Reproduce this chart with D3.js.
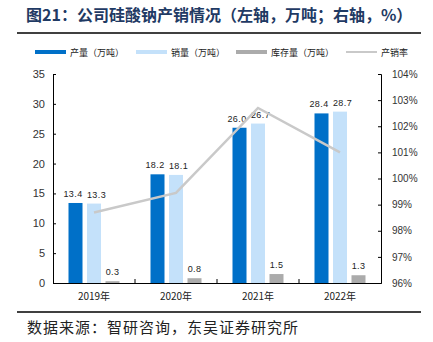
<!DOCTYPE html>
<html><head><meta charset="utf-8">
<script src="https://cdn.jsdelivr.net/npm/d3@7"></script>
<style>body{margin:0;background:#fff}svg{display:block}</style>
</head><body>
<script>
const years = ["2019年","2020年","2021年","2022年"];
const production = [13.4, 18.2, 26.0, 28.4];
const sales = [13.3, 18.1, 26.7, 28.7];
const inventory = [0.3, 0.8, 1.5, 1.3];
const rate = [98.7, 99.45, 102.7, 101.0];
const leftTicks = [0,5,10,15,20,25,30,35];
const rightTicks = [96,97,98,99,100,101,102,103,104];
const seriesNames = ["产量（万吨）","销量（万吨）","库存量（万吨）","产销率"];
const colors = ["#0070C8","#C4E1FA","#ABABAB","#C9C9C9"];

(function(){
const W=433,H=342;
const svg=d3.select("body").append("svg").attr("width",W).attr("height",H);
const pl=53,pr=381,pt=74,pb=283;

svg.append("text").attr("x",26).attr("y",21).attr("font-family","Noto Sans CJK SC").attr("font-weight","bold")
  .attr("font-size",16).attr("fill","#1F3A64").text("图21：公司硅酸钠产销情况（左轴，万吨；右轴，%）");
svg.append("line").attr("x1",17).attr("x2",421).attr("y1",33).attr("y2",33).attr("stroke","#000").attr("stroke-width",1.5);
svg.append("line").attr("x1",17).attr("x2",421).attr("y1",312).attr("y2",312).attr("stroke","#000").attr("stroke-width",1.5);
svg.append("text").attr("x",27).attr("y",333).attr("font-family","Noto Sans CJK SC")
  .attr("font-size",15).attr("letter-spacing",1).attr("fill","#222").text("数据来源：智研咨询，东吴证券研究所");

const x0=d3.scaleBand().domain(years).range([pl,pr]);
const y=d3.scaleLinear().domain([0,35]).range([pb,pt]);
const yr=d3.scaleLinear().domain([96,104]).range([pb,pt]);

const gl=svg.append("g").attr("transform",`translate(${pl},0)`)
  .call(d3.axisLeft(y).tickValues(leftTicks).tickSize(-3).tickPadding(8));
const gr=svg.append("g").attr("transform",`translate(${pr},0)`)
  .call(d3.axisRight(yr).tickValues(rightTicks).tickSize(-3).tickPadding(11).tickFormat(d=>d+"%"));
const gb=svg.append("g").attr("transform",`translate(0,${pb})`)
  .call(d3.axisBottom(x0).tickSize(0).tickPadding(10));
[gl,gr].forEach(g=>{g.selectAll("text").attr("font-family","Liberation Sans, Arial").attr("font-size",11).attr("fill","#333");
  g.selectAll("path,line").attr("stroke","#000");});
gr.selectAll("text").attr("font-size",10);
gb.select("path").attr("stroke","#000");
gb.selectAll("text").attr("font-family","Noto Sans CJK SC").attr("font-size",10).attr("fill","#222");
svg.append("g").selectAll("line").data(years.slice(1)).join("line")
  .attr("x1",d=>x0(d)).attr("x2",d=>x0(d)).attr("y1",pb).attr("y2",pb-4).attr("stroke","#000");

const barSeries=[production,sales,inventory];
const labelShift=[-2.5,2.5,0];
const x1=d3.scaleBand().domain([0,1,2]).paddingInner(0.243).paddingOuter(0);
years.forEach((yv,i)=>{
  const c=x0(yv)+x0.bandwidth()/2;
  x1.range([c-25.5,c+25.5]);
  barSeries.forEach((s,k)=>{
    svg.append("rect").attr("x",x1(k)).attr("width",x1.bandwidth())
      .attr("y",y(s[i])).attr("height",pb-y(s[i])).attr("fill",colors[k]);
    svg.append("text").attr("x",x1(k)+x1.bandwidth()/2+labelShift[k]).attr("y",y(s[i])-6)
      .attr("text-anchor","middle").attr("font-family","Liberation Sans, Arial").attr("font-size",9)
      .attr("letter-spacing",0.4).attr("fill","#222").text(s[i].toFixed(1));
  });
});

const line=d3.line().x((d,i)=>x0(years[i])+x0.bandwidth()/2).y(d=>yr(d));
svg.append("path").datum(rate).attr("d",line).attr("fill","none").attr("stroke",colors[3]).attr("stroke-width",2.5);

const lx=[35,136,236,346];
seriesNames.forEach((n,k)=>{
  svg.append("rect").attr("x",lx[k]).attr("y",k===3?51:50).attr("width",31).attr("height",k===3?2:4).attr("fill",colors[k]);
  svg.append("text").attr("x",lx[k]+35).attr("y",56).attr("font-family","Noto Sans CJK SC").attr("font-size",9)
    .attr("fill","#222").text(n);
});
})();
</script>
</body></html>
